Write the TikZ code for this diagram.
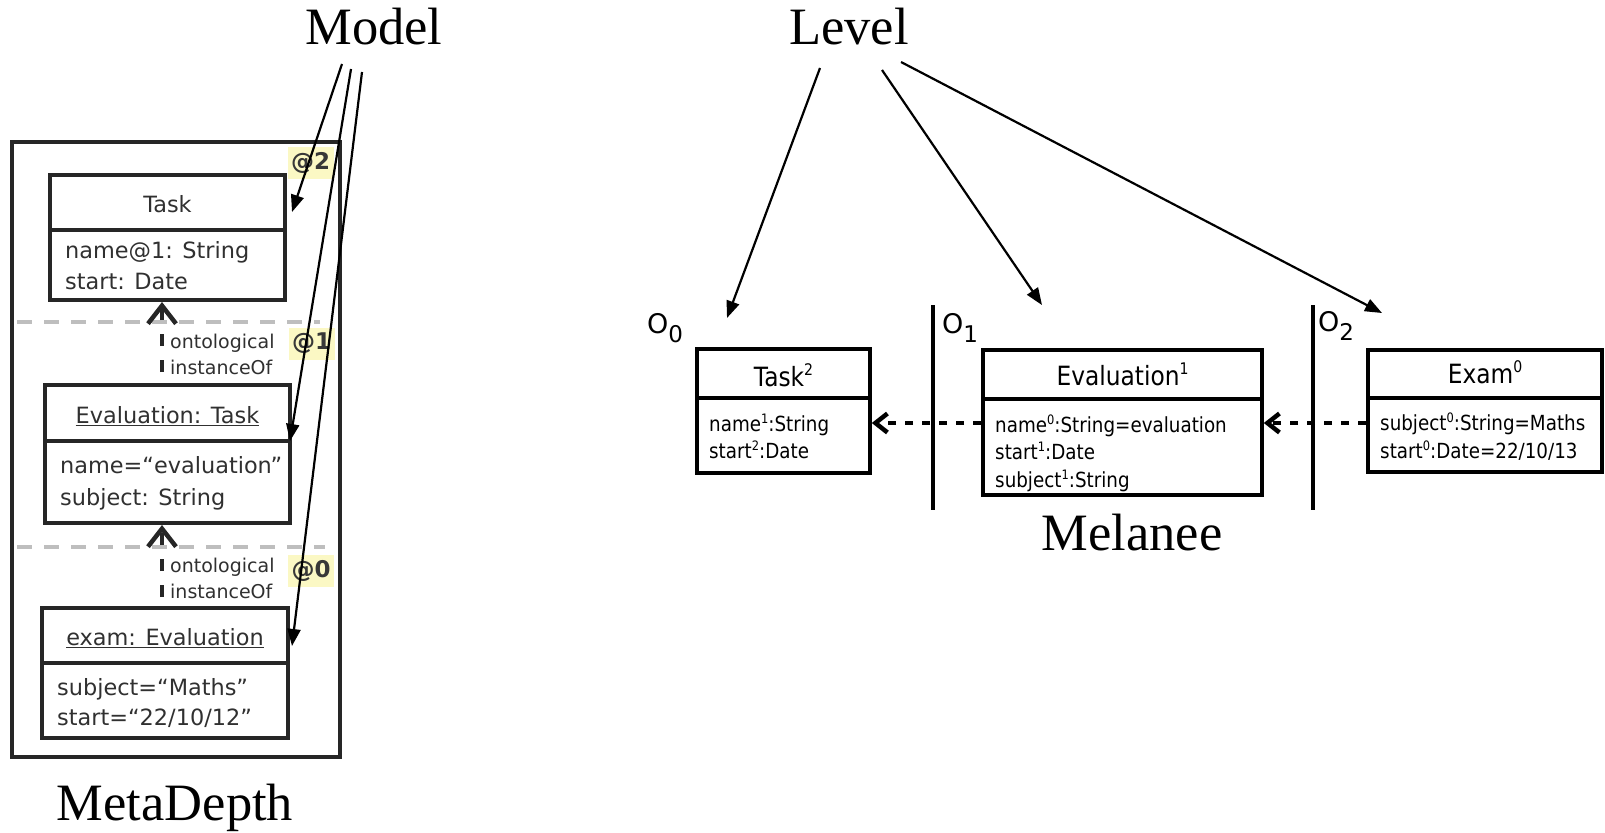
\documentclass[tikz,border=0pt]{standalone}
\usepackage{fontspec}
\setmainfont{Liberation Serif}
\newfontfamily\dv{DejaVu Sans}
\newfontfamily\dvc[FakeStretch=0.88]{DejaVu Sans}
\usetikzlibrary{arrows.meta}

\definecolor{mdline}{HTML}{262626}
\definecolor{mdtxt}{HTML}{303030}
\definecolor{lvlgray}{HTML}{BEBEBE}
\definecolor{lvlyellow}{HTML}{FBF8C4}

% superscripts for the Melanee potencies
\newcommand\hpot[1]{\raisebox{11pt}{\fontsize{16}{16}\selectfont #1}}
\newcommand\apot[1]{\raisebox{8pt}{\fontsize{13}{13}\selectfont #1}}
\newcommand\osub[1]{\raisebox{-9pt}{\fontsize{23}{23}\selectfont #1}}

\begin{document}
\begin{tikzpicture}[x=1pt,y=-1pt,
  title/.style={font=\fontsize{52.5}{60}\selectfont, anchor=base, inner sep=0pt},
  mdbox/.style={draw=mdline, line width=4pt, inner sep=0pt, rectangle},
  mdrule/.style={draw=mdline, line width=4pt},
  mdtext/.style={font=\dv\fontsize{22.4}{26}\selectfont, text=mdtxt, anchor=base west, inner sep=0pt},
  mdhead/.style={mdtext, anchor=base},
  mdsmall/.style={font=\dv\fontsize{19}{22}\selectfont, text=mdtxt, anchor=base west, inner sep=0pt},
  lvltag/.style={fill=lvlyellow, minimum width=46pt, minimum height=32pt, inner sep=0pt,
    font=\dv\bfseries\fontsize{23}{26}\selectfont, text=black!78},
  gdash/.style={draw=lvlgray, line width=4pt, dash pattern=on 15pt off 12pt},
  inst/.style={draw=mdline, line width=4.5pt, dash pattern=on 12.5pt off 13.5pt,
    -{Straight Barb[length=18pt,width=28pt]}},
  mlbox/.style={draw=black, line width=3.6pt, inner sep=0pt, rectangle},
  mlrule/.style={draw=black, line width=3.6pt},
  mlhead/.style={font=\dvc\fontsize{26.5}{29}\selectfont, anchor=base, inner sep=0pt},
  mltext/.style={font=\dvc\fontsize{20.8}{24}\selectfont, anchor=base west, inner sep=0pt},
  olab/.style={font=\dv\fontsize{27}{30}\selectfont, anchor=base west, inner sep=0pt},
  lvlsep/.style={draw=black, line width=4pt},
  classof/.style={draw=black, line width=4.5pt, dash pattern=on 8pt off 9pt,
    -{Straight Barb[length=12pt,width=19pt]}},
  ptr/.style={draw=black, line width=2.2pt, -{Triangle[length=17pt,width=13pt]}}
]
\useasboundingbox (0,0) rectangle (1605,832);

% ---------- MetaDepth ----------
\node[mdbox, minimum width=328pt, minimum height=615pt] (md) at (176,449.5) {};

\draw[gdash] (17,322) -- (320,322);
\draw[gdash] (17,547) -- (325,547);

\node[lvltag] (ltwo)  at (310.5,162.5) {@2};
\node[lvltag] (lone)  at (311.5,343.5) {@1};
\node[lvltag] (lzero) at (311,571) {@0};

\node[mdbox, minimum width=235pt, minimum height=125pt] (mtask) at (167.5,237.5) {};
\draw[mdrule] (mtask.west |- 0,230) -- (mtask.east |- 0,230);
\node[mdhead] (mtaskh) at (167.5,212) {Task};
\node[mdtext] (mtaska) at (65,258) {name@1: String};
\node[mdtext] (mtaskb) at (65,289) {start: Date};

\node[mdbox, minimum width=245pt, minimum height=138pt] (meval) at (167.5,454) {};
\draw[mdrule] (meval.west |- 0,441) -- (meval.east |- 0,441);
\node[mdhead] (mevalh) at (167.5,423) {\underline{Evaluation: Task}};
\node[mdtext] (mevala) at (60,473) {name=“evaluation”};
\node[mdtext] (mevalb) at (60,505) {subject: String};

\node[mdbox, minimum width=246pt, minimum height=130pt] (mexam) at (165,673) {};
\draw[mdrule] (mexam.west |- 0,663) -- (mexam.east |- 0,663);
\node[mdhead] (mexamh) at (165,645) {\underline{exam: Evaluation}};
\node[mdtext] (mexama) at (57,695) {subject=“Maths”};
\node[mdtext] (mexamb) at (57,725) {start=“22/10/12”};

\coordinate (ix) at (162,0);
\draw[inst, dash phase=15pt] (meval.north -| ix) -- (mtask.south -| ix);
\draw[inst, dash phase=17pt] (mexam.north -| ix) -- (meval.south -| ix);
\node[mdsmall] (onto1) at (170,348) {ontological};
\node[mdsmall] (inst1) at (170,374) {instanceOf};
\node[mdsmall] (onto2) at (170,572) {ontological};
\node[mdsmall] (inst2) at (170,598) {instanceOf};

\node[title] (tmd) at (175,820) {MetaDepth};

% ---------- Melanee ----------
\draw[lvlsep] (933,305) coordinate (sepa) -- (933,510) coordinate (sepb);
\draw[lvlsep] (1313,305) coordinate (sepc) -- (1313,510) coordinate (sepd);
\node[olab] (ozero) at (647,333) {O\osub{0}};
\node[olab] (oone)  at (942,333) {O\osub{1}};
\node[olab] (otwo)  at (1318,331) {O\osub{2}};

\node[mlbox, minimum width=173pt, minimum height=124pt] (rtask) at (783.5,411) {};
\draw[mlrule] (rtask.west |- 0,398) -- (rtask.east |- 0,398);
\node[mlhead] (rtaskh) at (783.5,386) {Task\hpot{2}};
\node[mltext] (rtaska) at (709,431) {name\apot{1}:String};
\node[mltext] (rtaskb) at (709,458) {start\apot{2}:Date};

\node[mlbox, minimum width=279pt, minimum height=145pt] (reval) at (1122.5,422.5) {};
\draw[mlrule] (reval.west |- 0,399) -- (reval.east |- 0,399);
\node[mlhead] (revalh) at (1122.5,385) {Evaluation\hpot{1}};
\node[mltext] (revala) at (995,432) {name\apot{0}:String=evaluation};
\node[mltext] (revalb) at (995,459) {start\apot{1}:Date};
\node[mltext] (revalc) at (995,487) {subject\apot{1}:String};

\node[mlbox, minimum width=234pt, minimum height=122pt] (rexam) at (1485,411) {};
\draw[mlrule] (rexam.west |- 0,398) -- (rexam.east |- 0,398);
\node[mlhead] (rexamh) at (1485,383) {Exam\hpot{0}};
\node[mltext] (rexama) at (1380,430) {subject\apot{0}:String=Maths};
\node[mltext] (rexamb) at (1380,458) {start\apot{0}:Date=22/10/13};

\coordinate (ay) at (0,423);
\draw[classof] (reval.west |- ay) -- (rtask.east |- ay);
\draw[classof] (rexam.west |- ay) -- (reval.east |- ay);

\node[title] (tml) at (1132,550) {Melanee};

% ---------- headings and pointers ----------
\node[title] (tmodel) at (374,45) {Model};
\node[title] (tlevel) at (849,45) {Level};

\coordinate (m1) at (342,64);
\coordinate (m2) at (351,69);
\coordinate (m3) at (362,72);
\coordinate (pm1) at (292,212);
\coordinate (pm2) at (290,441);
\coordinate (pm3) at (292,646);
\draw[ptr] (m1) -- (pm1);
\draw[ptr] (m2) -- (pm2);
\draw[ptr] (m3) -- (pm3);

\coordinate (l1) at (820,68);
\coordinate (l2) at (882,70);
\coordinate (l3) at (901,62);
\coordinate (pl1) at (727,318);
\coordinate (pl2) at (1042,305);
\coordinate (pl3) at (1382,313);
\draw[ptr] (l1) -- (pl1);
\draw[ptr] (l2) -- (pl2);
\draw[ptr] (l3) -- (pl3);
\end{tikzpicture}
\end{document}
